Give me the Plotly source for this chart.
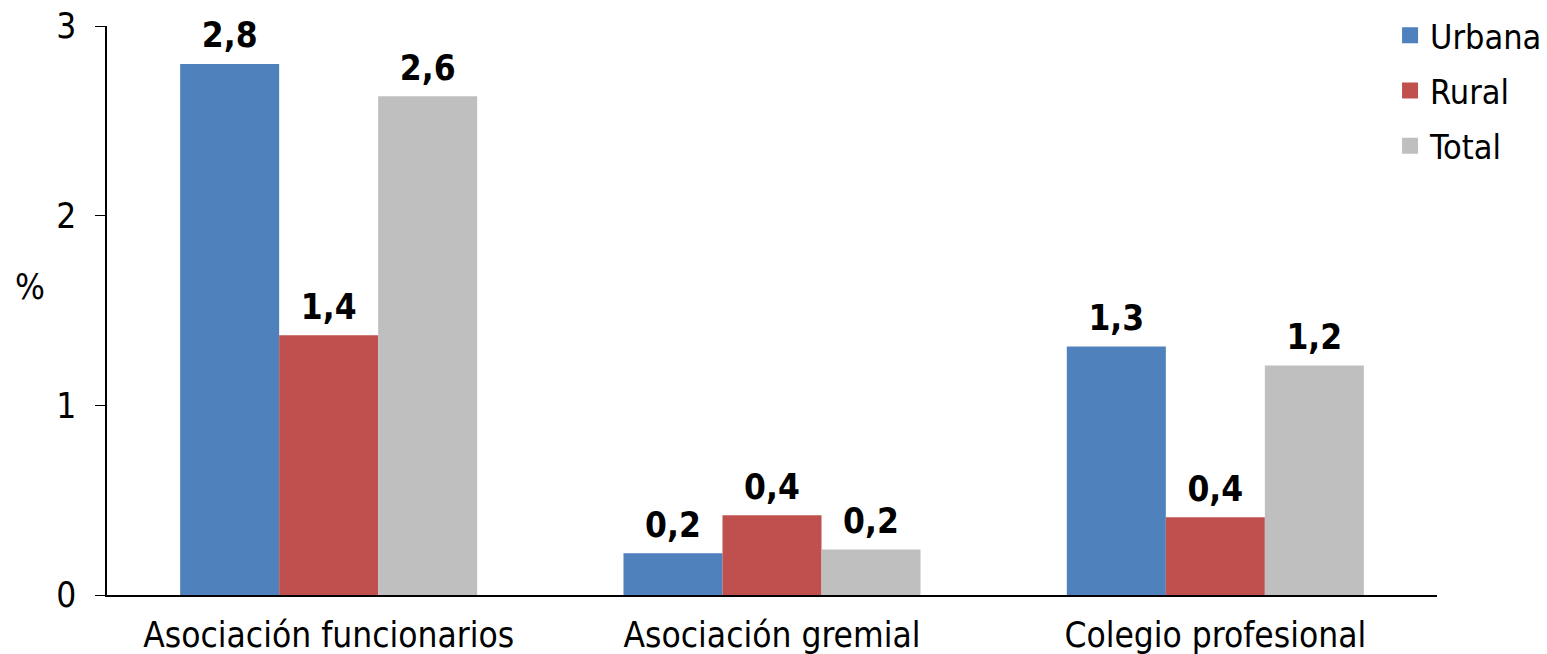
import plotly.graph_objects as go

categories = ["Asociación funcionarios", "Asociación gremial", "Colegio profesional"]
series_names = ["Urbana", "Rural", "Total"]
urbana = [2.8, 0.22, 1.31]
rural = [1.37, 0.42, 0.41]
total = [2.63, 0.24, 1.21]
y_ticks = [0, 1, 2, 3]

colors = ["#4F81BD", "#C0504D", "#BFBFBF"]
FONT = "DejaVu Sans Condensed, DejaVu Sans, Verdana, sans-serif"

def fmt(v):
    return f"{v:.1f}".replace(".", ",")

fig = go.Figure()
for name, vals, col in zip(series_names, [urbana, rural, total], colors):
    fig.add_trace(go.Bar(
        x=categories, y=vals, name=name, marker=dict(color=col, line=dict(width=0)),
        offsetgroup=name, legendgroup=name, showlegend=False,
    ))
for name, vals, col in zip(series_names, [urbana, rural, total], colors):
    # value labels, grouped like the bars
    fig.add_trace(go.Scatter(
        x=categories, y=vals, mode="markers+text", name=name,
        text=[fmt(v) for v in vals], textposition="top center",
        textfont=dict(family=FONT, size=35, color="black", weight="bold"),
        marker=dict(color="rgba(0,0,0,0)", size=11),
        offsetgroup=name, legendgroup=name, showlegend=False, cliponaxis=False,
    ))
    # legend entry with a larger square swatch
    fig.add_trace(go.Scatter(
        x=[None], y=[None], mode="markers", name=name,
        marker=dict(color=col, symbol="square", size=17),
        offsetgroup=name, legendgroup=name, showlegend=True,
    ))

fig.update_layout(
    width=1547, height=654,
    margin=dict(l=107, r=110, t=26, b=59, autoexpand=False),
    paper_bgcolor="white", plot_bgcolor="white",
    barmode="group", bargap=0.33, bargroupgap=0,
    scattermode="group", scattergap=0.33,
    font=dict(family=FONT, size=35, color="black"),
    showlegend=True,
    legend=dict(x=0.9647, y=1.034, xanchor="left", yanchor="top",
                font=dict(family=FONT, size=34, color="black"),
                traceorder="grouped", tracegroupgap=8,
                bgcolor="rgba(0,0,0,0)", itemwidth=30),
    xaxis=dict(showline=True, linecolor="black", linewidth=1.5, ticks="",
               showgrid=False, ticklabelstandoff=8, automargin=False,
               tickfont=dict(family=FONT, size=35)),
    yaxis=dict(range=[0, 3], tickvals=y_ticks, showline=True, linecolor="black",
               linewidth=1.5, ticks="outside", ticklen=10, tickcolor="black",
               showgrid=False, zeroline=False, ticklabelstandoff=12, automargin=False,
               ticklabeloverflow="allow",
               tickfont=dict(family=FONT, size=35)),
    annotations=[dict(text="%", xref="paper", yref="paper", x=-0.058, y=0.541,
                      xanchor="center", yanchor="middle",
                      showarrow=False, font=dict(family=FONT, size=35, color="black"))],
)

fig.write_html("out.html", config={"displayModeBar": False},
               post_script="document.body.style.margin='0';")
